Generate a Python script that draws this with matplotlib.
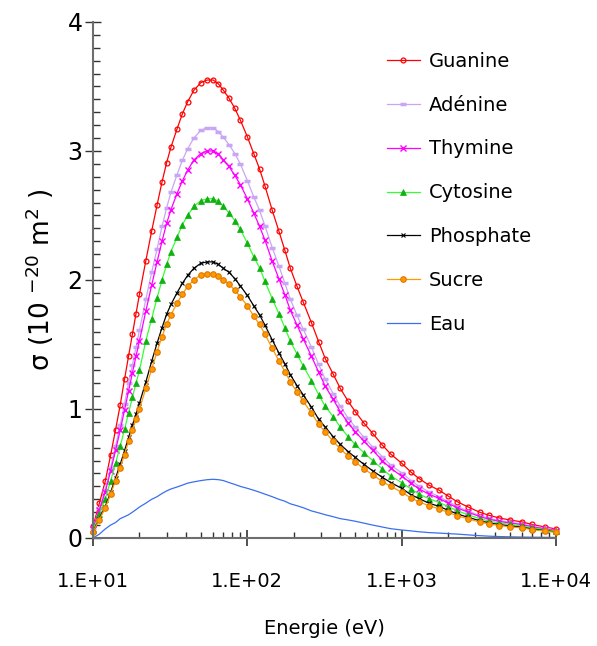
import math
import matplotlib
matplotlib.use('Agg')
import matplotlib.pyplot as plt
from matplotlib.ticker import FuncFormatter, LogLocator, MultipleLocator, NullFormatter

# energies (eV) and cross sections (1e-20 m2)
energie = [10, 11, 12, 13, 14, 15, 16, 17, 18, 19, 20, 22, 24, 26, 28, 30, 32, 35, 38, 41,
           45, 50, 55, 60, 65, 70, 76, 83, 90, 100, 110, 120, 130, 145, 160, 175, 190, 210,
           230, 260, 290, 320, 360, 400, 450, 500, 570, 650, 750, 850, 1000, 1150, 1300,
           1500, 1750, 2000, 2300, 2700, 3200, 3700, 4300, 5000, 6000, 7000, 8500, 10000]

guanine = [0.09, 0.27, 0.44, 0.64, 0.84, 1.03, 1.23, 1.41, 1.58, 1.74, 1.89, 2.15, 2.38, 2.58,
           2.76, 2.91, 3.03, 3.17, 3.29, 3.38, 3.47, 3.53, 3.55, 3.55, 3.52, 3.47, 3.41, 3.33,
           3.24, 3.11, 2.98, 2.86, 2.73, 2.54, 2.38, 2.23, 2.09, 1.95, 1.83, 1.67, 1.52, 1.39,
           1.27, 1.16, 1.06, 0.98, 0.89, 0.81, 0.72, 0.65, 0.58, 0.51, 0.46, 0.41, 0.37, 0.325,
           0.28, 0.24, 0.20, 0.175, 0.155, 0.14, 0.125, 0.105, 0.085, 0.07]

adenine = [0.076, 0.23, 0.374, 0.544, 0.714, 0.876, 1.04, 1.20, 1.34, 1.48, 1.61, 1.85, 2.06,
           2.24, 2.415, 2.56, 2.68, 2.815, 2.93, 3.015, 3.10, 3.16, 3.18, 3.18, 3.15, 3.105,
           3.05, 2.98, 2.90, 2.77, 2.645, 2.54, 2.42, 2.25, 2.11, 1.975, 1.85, 1.725, 1.62,
           1.48, 1.345, 1.23, 1.12, 1.02, 0.93, 0.86, 0.78, 0.705, 0.63, 0.565, 0.505, 0.445,
           0.40, 0.357, 0.32, 0.283, 0.244, 0.209, 0.174, 0.152, 0.135, 0.122, 0.109, 0.091,
           0.074, 0.061]

thymine = [0.073, 0.22, 0.356, 0.518, 0.68, 0.834, 0.99, 1.14, 1.28, 1.41, 1.53, 1.76, 1.96,
           2.14, 2.30, 2.44, 2.545, 2.67, 2.77, 2.85, 2.93, 2.98, 3.00, 3.00, 2.975, 2.93, 2.88,
           2.81, 2.74, 2.63, 2.52, 2.415, 2.31, 2.145, 2.01, 1.885, 1.765, 1.65, 1.545, 1.41,
           1.285, 1.175, 1.075, 0.98, 0.89, 0.825, 0.75, 0.68, 0.60, 0.54, 0.48, 0.425, 0.38,
           0.34, 0.307, 0.27, 0.232, 0.20, 0.166, 0.145, 0.129, 0.116, 0.104, 0.087, 0.07,
           0.058]

cytosine = [0.062, 0.186, 0.304, 0.442, 0.58, 0.711, 0.842, 0.97, 1.09, 1.20, 1.30, 1.53, 1.70,
            1.86, 2.00, 2.12, 2.22, 2.33, 2.43, 2.50, 2.57, 2.615, 2.63, 2.63, 2.61, 2.57, 2.52,
            2.46, 2.395, 2.285, 2.18, 2.095, 1.99, 1.855, 1.74, 1.63, 1.525, 1.425, 1.335, 1.22,
            1.11, 1.02, 0.94, 0.86, 0.785, 0.725, 0.66, 0.60, 0.535, 0.48, 0.43, 0.38, 0.34,
            0.305, 0.275, 0.244, 0.21, 0.18, 0.15, 0.131, 0.116, 0.105, 0.094, 0.079, 0.064,
            0.053]

phosphate = [0.05, 0.15, 0.244, 0.354, 0.465, 0.571, 0.676, 0.78, 0.875, 0.96, 1.045, 1.21, 1.37,
             1.51, 1.63, 1.735, 1.81, 1.90, 1.975, 2.035, 2.09, 2.13, 2.14, 2.14, 2.12, 2.09,
             2.06, 2.01, 1.955, 1.88, 1.80, 1.73, 1.65, 1.535, 1.435, 1.35, 1.265, 1.18, 1.11,
             1.015, 0.92, 0.86, 0.785, 0.725, 0.67, 0.625, 0.57, 0.52, 0.47, 0.43, 0.385, 0.335,
             0.305, 0.27, 0.245, 0.215, 0.186, 0.16, 0.134, 0.117, 0.104, 0.094, 0.084, 0.07,
             0.057, 0.047]

sucre = [0.048, 0.143, 0.233, 0.339, 0.445, 0.546, 0.647, 0.75, 0.84, 0.92, 1.00, 1.16, 1.31,
         1.445, 1.56, 1.66, 1.73, 1.82, 1.89, 1.95, 2.00, 2.04, 2.05, 2.05, 2.03, 2.00, 1.97,
         1.92, 1.87, 1.80, 1.72, 1.655, 1.58, 1.47, 1.375, 1.29, 1.21, 1.13, 1.06, 0.97, 0.88,
         0.82, 0.75, 0.69, 0.635, 0.59, 0.535, 0.49, 0.437, 0.40, 0.355, 0.31, 0.28, 0.25,
         0.226, 0.198, 0.172, 0.148, 0.124, 0.108, 0.096, 0.087, 0.078, 0.065, 0.053, 0.044]

eau = [0.0, 0.03, 0.07, 0.10, 0.12, 0.15, 0.165, 0.18, 0.20, 0.22, 0.24, 0.27, 0.30, 0.32, 0.345,
       0.365, 0.38, 0.395, 0.41, 0.425, 0.435, 0.445, 0.452, 0.455, 0.452, 0.445, 0.43, 0.415,
       0.40, 0.385, 0.37, 0.355, 0.34, 0.32, 0.30, 0.285, 0.265, 0.25, 0.235, 0.21, 0.195, 0.18,
       0.165, 0.15, 0.14, 0.13, 0.115, 0.10, 0.085, 0.072, 0.062, 0.055, 0.048, 0.042, 0.038,
       0.034, 0.03, 0.024, 0.018, 0.014, 0.011, 0.009, 0.007, 0.006, 0.005, 0.004]

series = [
    ("Guanine", guanine, dict(color='#ff0000', marker='o', markersize=3.5, mfc='none', mec='#ff0000', mew=0.9)),
    ("Adénine", adenine, dict(color='#c8a6f4', marker='_', markersize=4, mec='#c8a6f4', mew=2.5)),
    ("Thymine", thymine, dict(color='#ff00ff', marker='x', markersize=4, mec='#ff00ff', mew=1.0)),
    ("Cytosine", cytosine, dict(color='#33ff33', marker='^', markersize=4.5, mfc='#10b010', mec='#10b010', mew=0.5)),
    ("Phosphate", phosphate, dict(color='#000000', marker='x', markersize=3.5, mec='#000000', mew=0.8)),
    ("Sucre", sucre, dict(color='#ff9900', marker='o', markersize=4, mfc='#ff9900', mec='#e07800', mew=0.8)),
    ("Eau", eau, dict(color='#3a6ff0')),
]

fig = plt.figure(figsize=(5.97, 6.46), dpi=100)
ax = fig.add_axes([0.1558, 0.1672, 0.7755, 0.7988])

for name, vals, style in series:
    ax.plot(energie, vals, lw=0.9, label=name, clip_on=False, **style)

ax.set_xscale('log')
ax.set_xlim(10, 1e4)
ax.set_ylim(0, 4)

for s in ['top', 'right']:
    ax.spines[s].set_visible(False)
for s in ['left', 'bottom']:
    ax.spines[s].set_color('#6e6e6e')
    ax.spines[s].set_linewidth(1.5)

ax.xaxis.set_major_locator(LogLocator(base=10, numticks=10))
ax.xaxis.set_minor_locator(LogLocator(base=10, subs=range(2, 10), numticks=10))
ax.xaxis.set_minor_formatter(NullFormatter())
ax.xaxis.set_major_formatter(FuncFormatter(lambda v, p: "1.E+%02d" % round(math.log10(v))))
ax.yaxis.set_major_locator(MultipleLocator(1))
ax.yaxis.set_minor_locator(MultipleLocator(0.1))
ax.yaxis.set_major_formatter(FuncFormatter(lambda v, p: "%d" % v))

ax.tick_params(axis='x', which='major', direction='inout', length=12, width=1.2, color='#333333',
               labelsize=14, pad=18.5)
ax.tick_params(axis='x', which='minor', direction='in', length=4.5, width=1.0, color='#333333')
ax.tick_params(axis='y', which='major', direction='inout', length=11, width=1.0, color='#333333',
               labelsize=17, pad=2)
ax.tick_params(axis='y', which='minor', direction='in', length=5, width=1.0, color='#333333')

ax.set_xlabel("Energie (eV)", fontsize=14, labelpad=20.5)
ax.set_ylabel("σ (10 $^{-20}$ m$^{2}$ )", fontsize=19, labelpad=8)

ax.legend(loc='upper left', bbox_to_anchor=(0.648, 0.92), bbox_transform=fig.transFigure,
          frameon=False, fontsize=14, handlelength=1.7, handletextpad=0.45,
          labelspacing=1.28, borderpad=0, borderaxespad=0)

fig.savefig("out.png", dpi=100)
